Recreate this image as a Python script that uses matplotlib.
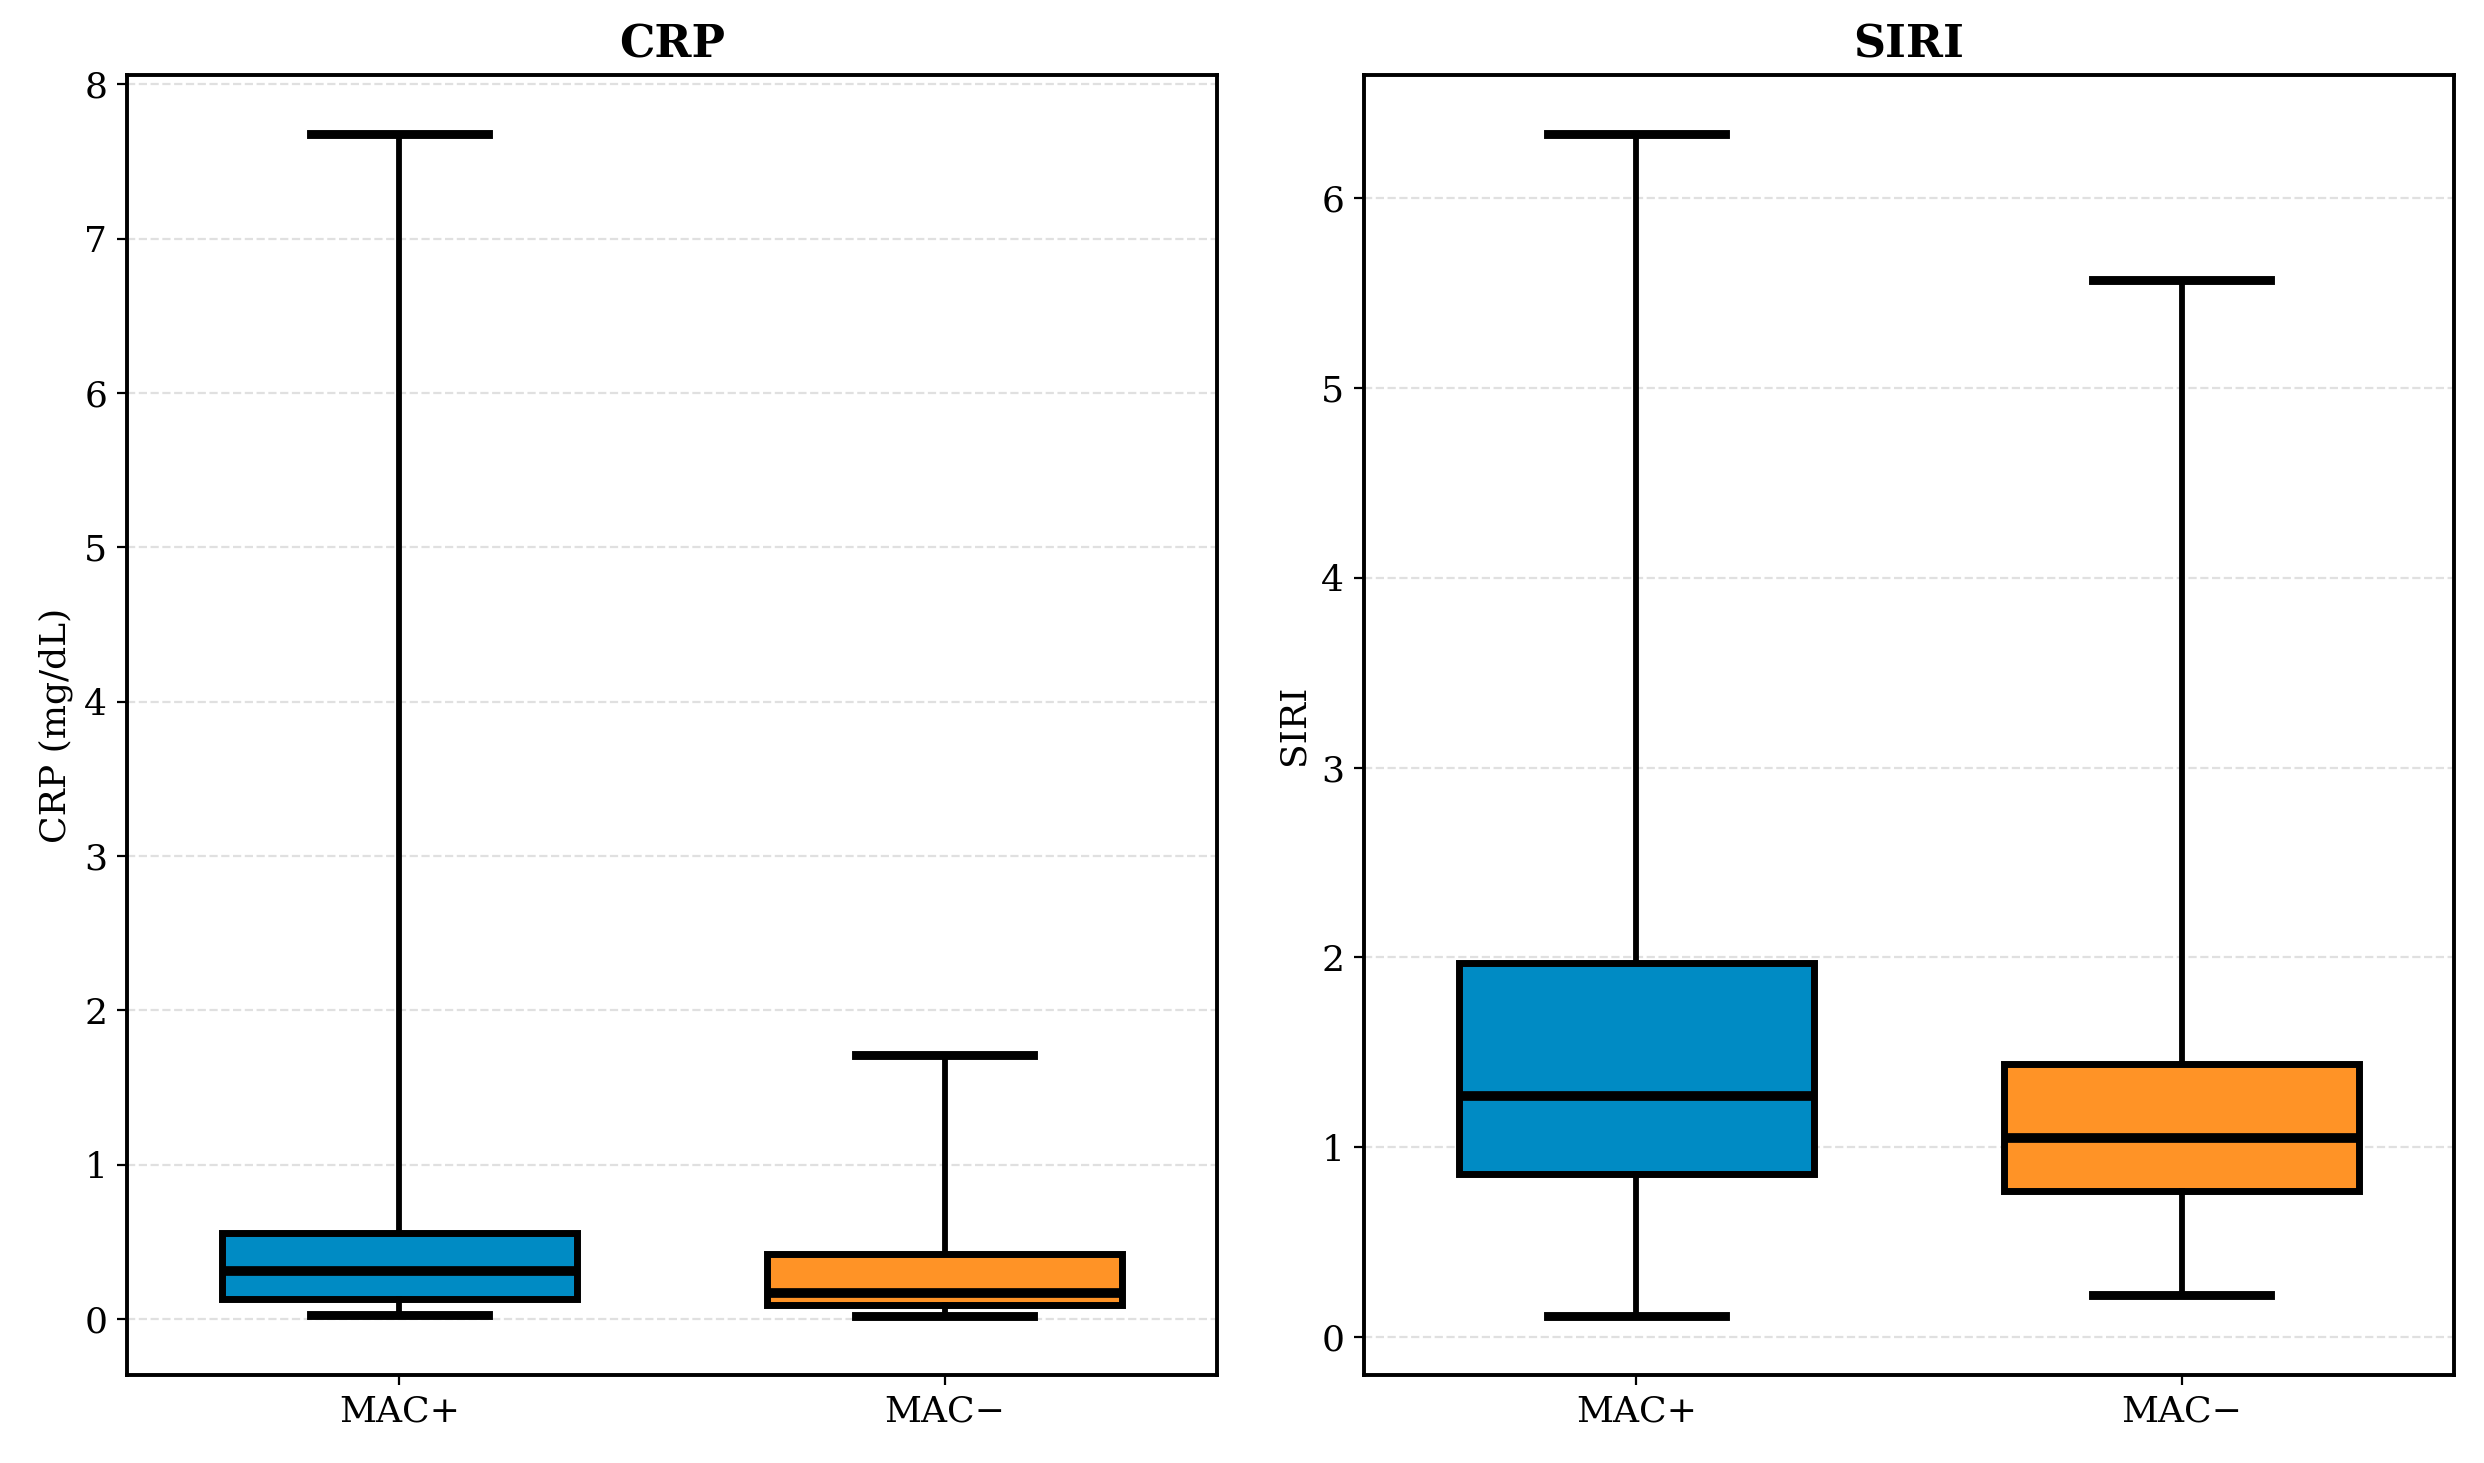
import matplotlib
matplotlib.use("Agg")
import matplotlib.pyplot as plt

# Valores (resumen de cajas)
groups = ["MAC+", "MAC\u2212"]
box_colors = ["#008BC4", "#FF9326"]

crp_low = [0.03, 0.02]
crp_q1 = [0.13, 0.09]
crp_med = [0.31, 0.17]
crp_q3 = [0.56, 0.42]
crp_high = [7.68, 1.71]

siri_low = [0.11, 0.22]
siri_q1 = [0.86, 0.77]
siri_med = [1.27, 1.05]
siri_q3 = [1.97, 1.44]
siri_high = [6.34, 5.57]

plt.rcParams['font.family'] = ['DejaVu Serif']


def build_stats(low, q1, med, q3, high):
    return [{'whislo': low[i], 'q1': q1[i], 'med': med[i], 'q3': q3[i],
             'whishi': high[i], 'fliers': [], 'label': groups[i]}
            for i in range(len(groups))]


def draw_box(ax, stats, title, ylabel):
    bp = ax.bxp(stats, positions=range(len(stats)), widths=0.65,
                patch_artist=True, showfliers=False,
                boxprops={'linewidth': 2.5, 'edgecolor': 'black'},
                whiskerprops={'linewidth': 2.1, 'color': 'black'},
                capprops={'linewidth': 3.2, 'color': 'black'},
                medianprops={'linewidth': 3.5, 'color': 'black'})
    for patch, color in zip(bp['boxes'], box_colors):
        patch.set_facecolor(color)
    ax.set_xlim(-0.5, len(stats) - 0.5)
    ax.set_title(title, fontsize=16, fontweight='bold')
    ax.set_ylabel(ylabel, fontsize=13)
    ax.tick_params(axis='both', labelsize=13)
    ax.grid(axis='y', linestyle='--', color='#d9d9d9', linewidth=0.8, alpha=0.8)
    ax.set_axisbelow(True)
    for spine in ax.spines.values():
        spine.set_linewidth(1.4)


fig = plt.figure(figsize=(12.42, 7.315), dpi=200)
ax1 = fig.add_axes([0.051, 0.060, 0.439, 0.889])
ax2 = fig.add_axes([0.549, 0.060, 0.439, 0.889])

draw_box(ax1, build_stats(crp_low, crp_q1, crp_med, crp_q3, crp_high), 'CRP', 'CRP (mg/dL)')
draw_box(ax2, build_stats(siri_low, siri_q1, siri_med, siri_q3, siri_high), 'SIRI', 'SIRI')

fig.savefig('out.png', dpi=200)
